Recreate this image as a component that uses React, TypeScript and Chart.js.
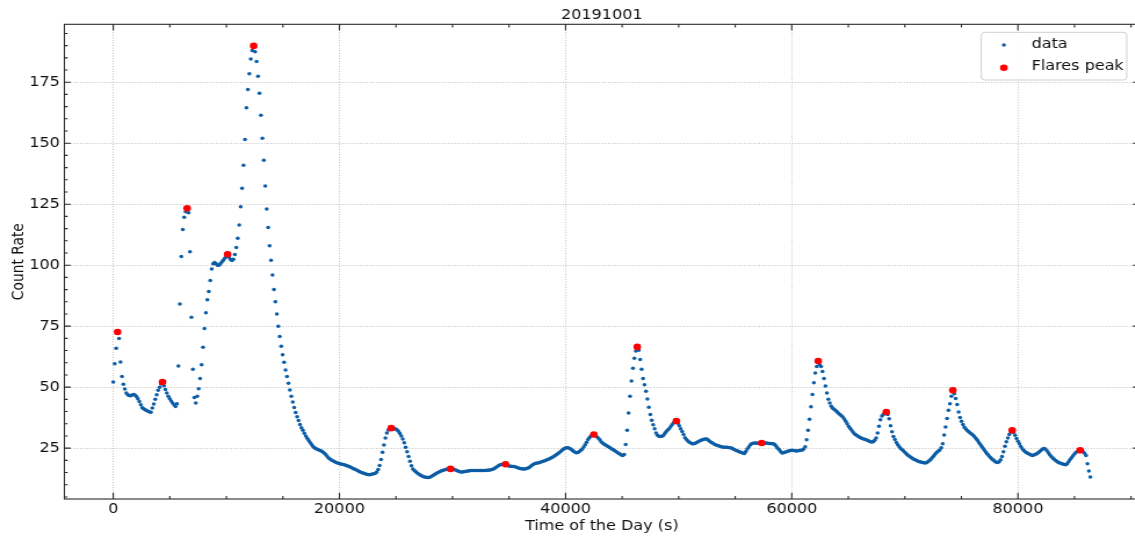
import { useEffect, useRef } from 'react';
import { Chart, registerables } from 'chart.js';

Chart.register(...registerables);

// Light-curve sampling cadence (s)
const CADENCE = 128;

// Count rate, one sample every CADENCE seconds starting at 00:00:00
const COUNT_RATE: number[] = [
  52.1, 59.6, 66.0, 72.6, 69.9, 60.3, 54.4, 51.2, 49.2, 47.6,
  46.9, 46.6, 46.5, 46.8, 47.0, 46.8, 46.2, 45.3, 44.1, 42.8,
  41.6, 41.1, 40.7, 40.4, 40.1, 39.8, 39.7, 41.5, 43.1, 45.0,
  46.9, 48.7, 50.0, 51.3, 52.1, 50.6, 49.0, 47.6, 46.3, 45.2,
  44.3, 43.5, 42.8, 42.1, 43.2, 58.7, 84.1, 103.6, 114.6, 119.6,
  121.9, 123.3, 121.5, 105.5, 78.7, 57.3, 45.8, 43.5, 46.3, 49.4,
  53.6, 59.2, 66.4, 74.0, 80.5, 85.8, 89.2, 93.7, 98.4, 100.6,
  101.1, 100.6, 100.0, 100.0, 100.6, 101.3, 102.0, 102.8, 103.6, 104.5,
  103.3, 102.3, 101.9, 102.4, 104.4, 107.3, 111.0, 116.5, 124.0, 131.5,
  141.0, 151.5, 164.5, 172.0, 178.5, 184.5, 188.0, 189.9, 187.5, 183.5,
  177.5, 170.5, 161.5, 152.0, 143.0, 132.5, 123.0, 115.5, 108.0, 102.0,
  96.0, 90.0, 85.0, 80.0, 75.0, 70.8, 66.8, 63.3, 60.2, 57.0,
  54.4, 51.6, 48.8, 46.3, 43.9, 41.7, 39.6, 37.9, 36.3, 34.7,
  33.4, 32.3, 31.1, 30.0, 29.1, 28.1, 27.3, 26.5, 25.7, 25.2,
  24.8, 24.5, 24.2, 24.0, 23.7, 23.3, 22.8, 22.2, 21.5, 20.9,
  20.4, 20.0, 19.7, 19.4, 19.1, 18.9, 18.7, 18.5, 18.4, 18.3,
  18.1, 17.9, 17.7, 17.5, 17.2, 16.9, 16.6, 16.3, 16.0, 15.7,
  15.4, 15.1, 14.9, 14.7, 14.5, 14.3, 14.2, 14.1, 14.2, 14.4,
  14.5, 14.7, 15.2, 16.2, 17.9, 20.3, 23.3, 26.3, 29.2, 31.2,
  32.4, 32.9, 33.2, 33.1, 33.0, 32.8, 32.5, 31.9, 31.0, 30.0,
  28.8, 27.2, 25.4, 23.5, 21.6, 19.6, 17.8, 16.5, 15.8, 15.3,
  14.8, 14.4, 14.0, 13.7, 13.4, 13.2, 13.1, 13.0, 13.0, 13.2,
  13.5, 13.9, 14.2, 14.6, 14.9, 15.2, 15.5, 15.7, 15.9, 16.1,
  16.3, 16.4, 16.5, 16.5, 16.4, 16.3, 16.1, 15.9, 15.6, 15.4,
  15.2, 15.2, 15.3, 15.4, 15.5, 15.6, 15.7, 15.8, 15.8, 15.8,
  15.8, 15.8, 15.8, 15.8, 15.8, 15.8, 15.8, 15.8, 15.9, 15.9,
  16.0, 16.1, 16.3, 16.6, 17.0, 17.4, 17.8, 18.1, 18.3, 18.4,
  18.4, 18.4, 18.1, 17.8, 17.6, 17.6, 17.5, 17.5, 17.3, 17.1,
  16.9, 16.7, 16.6, 16.5, 16.5, 16.6, 16.8, 17.0, 17.4, 17.9,
  18.3, 18.6, 18.8, 18.9, 19.0, 19.2, 19.4, 19.6, 19.8, 20.0,
  20.3, 20.6, 20.9, 21.2, 21.5, 21.9, 22.3, 22.7, 23.1, 23.6,
  24.1, 24.6, 25.0, 25.2, 25.2, 25.0, 24.7, 24.2, 23.7, 23.3,
  23.1, 23.2, 23.6, 24.1, 24.7, 25.5, 26.4, 27.4, 28.5, 29.4,
  30.0, 30.4, 30.6, 30.3, 29.7, 29.2, 28.5, 27.6, 27.1, 26.7,
  26.3, 26.0, 25.6, 25.3, 24.9, 24.4, 24.1, 23.7, 23.3, 22.9,
  22.6, 22.2, 22.0, 22.4, 26.5, 32.3, 39.4, 46.3, 52.5, 57.8,
  61.9, 64.8, 66.5, 65.1, 61.3, 57.3, 53.5, 51.0, 48.3, 45.1,
  41.8, 38.8, 36.4, 34.6, 33.0, 31.2, 30.3, 29.9, 29.8, 29.9,
  30.2, 31.0, 31.8, 32.4, 33.0, 33.8, 34.6, 35.3, 35.8, 36.1,
  35.2, 34.2, 33.0, 31.8, 30.6, 29.3, 28.5, 27.9, 27.4, 27.1,
  26.8, 26.8, 27.0, 27.3, 27.6, 27.9, 28.2, 28.4, 28.6, 28.8,
  28.7, 28.3, 27.8, 27.4, 27.1, 26.7, 26.4, 26.2, 26.0, 25.8,
  25.6, 25.5, 25.4, 25.4, 25.4, 25.3, 25.2, 25.1, 24.8, 24.4,
  24.1, 23.9, 23.6, 23.4, 23.2, 22.9, 22.8, 23.6, 24.6, 25.5,
  26.3, 26.8, 27.0, 27.1, 27.1, 27.0, 27.0, 27.1, 27.1, 27.1,
  27.1, 27.1, 27.0, 26.9, 26.9, 26.8, 26.8, 26.5, 25.8, 25.0,
  24.4, 23.6, 23.0, 23.1, 23.3, 23.5, 23.7, 23.9, 24.0, 24.1,
  24.0, 23.9, 23.8, 23.9, 24.0, 24.1, 24.2, 24.6, 25.6, 28.4,
  32.3, 36.8, 42.0, 47.0, 51.8, 55.8, 58.5, 60.7, 59.3, 58.5,
  56.4, 53.5, 50.5, 47.6, 45.0, 43.5, 42.2, 41.4, 40.9, 40.4,
  39.9, 39.3, 38.8, 38.3, 37.8, 37.0, 36.0, 35.0, 34.0, 33.2,
  32.4, 31.6, 30.9, 30.5, 30.1, 29.7, 29.4, 29.1, 28.9, 28.6,
  28.4, 28.2, 27.9, 27.6, 27.5, 27.6, 28.2, 29.2, 31.2, 34.0,
  36.6, 38.2, 38.8, 39.3, 39.8, 38.8, 37.1, 34.2, 31.7, 29.8,
  28.5, 27.3, 26.4, 25.6, 24.9, 24.3, 23.8, 23.2, 22.6, 22.1,
  21.7, 21.3, 20.9, 20.5, 20.2, 19.9, 19.6, 19.4, 19.3, 19.1,
  19.0, 18.9, 19.1, 19.5, 20.0, 20.6, 21.3, 22.0, 22.7, 23.3,
  23.8, 24.2, 25.2, 26.8, 30.4, 33.7, 37.2, 40.5, 43.2, 46.3,
  48.7, 47.3, 45.4, 42.9, 39.8, 37.6, 36.0, 34.7, 33.6, 32.8,
  32.2, 31.7, 31.2, 30.8, 30.3, 29.7, 29.0, 28.2, 27.3, 26.5,
  25.7, 24.9, 24.0, 23.2, 22.5, 21.8, 21.2, 20.6, 20.1, 19.6,
  19.2, 19.1, 19.4, 20.2, 21.6, 23.5, 25.8, 27.6, 29.2, 30.6,
  31.6, 32.3, 31.4, 30.3, 29.0, 27.8, 26.8, 25.7, 24.8, 24.0,
  23.5, 23.1, 22.8, 22.5, 22.2, 22.0, 22.2, 22.5, 22.7, 23.1,
  23.6, 24.1, 24.6, 24.9, 24.7, 23.9, 23.1, 22.3, 21.6, 21.0,
  20.4, 19.9, 19.5, 19.1, 18.9, 18.7, 18.5, 18.3, 18.2, 18.6,
  19.4, 20.3, 21.1, 21.9, 22.6, 23.2, 23.6, 23.9, 24.1, 23.9,
  23.5, 22.9, 22.0, 18.6, 15.6, 13.2,
];

// Sample indices of the detected flare peaks
const PEAK_INDEX: number[] = [3, 34, 51, 79, 97, 192, 233, 271, 332, 362, 389, 448, 487, 534, 580, 621, 668];

const TIME_S = COUNT_RATE.map((_, i) => i * CADENCE);

const X_TICKS = [0, 20000, 40000, 60000, 80000];
const Y_TICKS = [25, 50, 75, 100, 125, 150, 175];
const X_MINOR_STEP = 5000;
const Y_MINOR_STEP = 5;

const TITLE = '20191001';
const X_LABEL = 'Time of the Day (s)';
const Y_LABEL = 'Count Rate';
const DATA_LABEL = 'data';
const PEAK_LABEL = 'Flares peak';

const DATA_COLOR = '#0C5DA5';
const PEAK_COLOR = '#ff0000';
const AXIS_COLOR = '#2a2a2a';
const GRID_COLOR = '#b0b0b0';
const TEXT_COLOR = '#111111';
const FONT = "'DejaVu Sans', sans-serif";
const FONT_SIZE = 13.8;

const DATA_RADIUS = 1.75;
const PEAK_RADIUS = 3.3;

// Drawing surface: rendered narrow, displayed horizontally widened
const RENDER_W = 985;
const HEIGHT = 541;
const STRETCH = 1.1605;

// 5 % margins around the data, as in the usual autoscaling
function paddedRange(values: number[]) {
  const lo = Math.min(...values);
  const hi = Math.max(...values);
  const m = (hi - lo) * 0.05;
  return [lo - m, hi + m];
}
const [X_MIN, X_MAX] = paddedRange(TIME_S);
const [Y_MIN, Y_MAX] = paddedRange(COUNT_RATE);

const dataPoints = TIME_S.map((t, i) => ({ x: t, y: COUNT_RATE[i] }));
const peakPoints = PEAK_INDEX.map((i) => ({ x: TIME_S[i], y: COUNT_RATE[i] }));

// Inward ticks on all four sides, frame, and a boxed legend
const axesDecor = {
  id: 'axesDecor',
  afterDatasetsDraw(chart: any) {
    const { ctx, chartArea: a, scales } = chart;
    const xs = scales.x;
    const ys = scales.y;
    ctx.save();
    ctx.strokeStyle = AXIS_COLOR;
    ctx.lineWidth = 1.1;
    ctx.beginPath();
    const start = Math.ceil(xs.min / X_MINOR_STEP) * X_MINOR_STEP;
    for (let v = start; v <= xs.max; v += X_MINOR_STEP) {
      const len = X_TICKS.includes(v) ? 6.2 : 3.1;
      const p = xs.getPixelForValue(v);
      ctx.moveTo(p, a.bottom);
      ctx.lineTo(p, a.bottom - len);
      ctx.moveTo(p, a.top);
      ctx.lineTo(p, a.top + len);
    }
    const yStart = Math.ceil(ys.min / Y_MINOR_STEP) * Y_MINOR_STEP;
    for (let v = yStart; v <= ys.max; v += Y_MINOR_STEP) {
      const len = Y_TICKS.includes(v) ? 5.4 : 2.8;
      const p = ys.getPixelForValue(v);
      ctx.moveTo(a.left, p);
      ctx.lineTo(a.left + len, p);
      ctx.moveTo(a.right, p);
      ctx.lineTo(a.right - len, p);
    }
    ctx.stroke();
    ctx.strokeRect(a.left, a.top, a.right - a.left, a.bottom - a.top);
    ctx.restore();
  },
  afterDraw(chart: any) {
    const { ctx, chartArea: a } = chart;
    const w = 125.4;
    const h = 47.7;
    const right = a.right - 10.7;
    const left = right - w;
    const top = a.top + 8;
    const r = 3;
    ctx.save();
    ctx.beginPath();
    ctx.moveTo(left + r, top);
    ctx.lineTo(left + w - r, top);
    ctx.arcTo(left + w, top, left + w, top + r, r);
    ctx.lineTo(left + w, top + h - r);
    ctx.arcTo(left + w, top + h, left + w - r, top + h, r);
    ctx.lineTo(left + r, top + h);
    ctx.arcTo(left, top + h, left, top + h - r, r);
    ctx.lineTo(left, top + r);
    ctx.arcTo(left, top, left + r, top, r);
    ctx.closePath();
    ctx.fillStyle = 'rgba(255,255,255,0.85)';
    ctx.fill();
    ctx.strokeStyle = '#d0d0d0';
    ctx.lineWidth = 1;
    ctx.stroke();

    ctx.fillStyle = DATA_COLOR;
    ctx.beginPath();
    ctx.arc(left + 19.5, top + 12.7, DATA_RADIUS, 0, Math.PI * 2);
    ctx.fill();
    ctx.fillStyle = PEAK_COLOR;
    ctx.beginPath();
    ctx.arc(left + 19.5, top + 35.4, PEAK_RADIUS, 0, Math.PI * 2);
    ctx.fill();

    ctx.fillStyle = TEXT_COLOR;
    ctx.font = `${FONT_SIZE}px ${FONT}`;
    ctx.textAlign = 'left';
    ctx.textBaseline = 'alphabetic';
    ctx.fillText(DATA_LABEL, left + 43.4, top + 16.0);
    ctx.fillText(PEAK_LABEL, left + 43.4, top + 37.7);
    ctx.restore();
  },
};

export default function App() {
  const canvasRef = useRef<HTMLCanvasElement>(null);

  useEffect(() => {
    const canvas = canvasRef.current;
    if (!canvas) return;
    const font = { family: FONT, size: FONT_SIZE, weight: 'normal' as const };
    const chart = new Chart(canvas, {
      type: 'scatter',
      data: {
        datasets: [
          {
            label: PEAK_LABEL,
            data: peakPoints,
            backgroundColor: PEAK_COLOR,
            borderWidth: 0,
            pointRadius: PEAK_RADIUS,
            pointHoverRadius: PEAK_RADIUS,
            order: 0,
          },
          {
            label: DATA_LABEL,
            data: dataPoints,
            backgroundColor: DATA_COLOR,
            borderWidth: 0,
            pointRadius: DATA_RADIUS,
            pointHoverRadius: DATA_RADIUS,
            order: 1,
          },
        ],
      },
      options: {
        responsive: false,
        maintainAspectRatio: false,
        devicePixelRatio: 1,
        animation: false,
        events: [],
        layout: { padding: { left: 0, right: 2.1, top: 0, bottom: 0 } },
        plugins: {
          legend: { display: false },
          tooltip: { enabled: false },
          title: {
            display: true,
            text: TITLE,
            color: TEXT_COLOR,
            font,
            fullSize: false,
            padding: { top: 7.1, bottom: 0.64 },
          },
        },
        scales: {
          x: {
            type: 'linear',
            position: 'bottom',
            min: X_MIN,
            max: X_MAX,
            afterBuildTicks: (scale: any) => {
              scale.ticks = X_TICKS.map((value) => ({ value }));
            },
            afterFit: (scale: any) => {
              scale.height = 42;
            },
            ticks: {
              color: TEXT_COLOR,
              font,
              padding: 2.5,
              maxRotation: 0,
              autoSkip: false,
              callback: (v: any) => String(v),
            },
            grid: { color: GRID_COLOR, lineWidth: 0.8, drawTicks: false },
            border: { display: false, dash: [1, 1.6] },
            title: {
              display: true,
              text: X_LABEL,
              color: TEXT_COLOR,
              font,
              padding: { top: 0, bottom: 6.6 },
            },
          },
          y: {
            type: 'linear',
            position: 'left',
            min: Y_MIN,
            max: Y_MAX,
            afterBuildTicks: (scale: any) => {
              scale.ticks = Y_TICKS.map((value) => ({ value }));
            },
            afterFit: (scale: any) => {
              scale.width = 55.5;
            },
            ticks: {
              color: TEXT_COLOR,
              font,
              padding: 3.9,
              autoSkip: false,
              callback: (v: any) => String(v),
            },
            grid: { color: GRID_COLOR, lineWidth: 0.8, drawTicks: false },
            border: { display: false, dash: [1, 1.6] },
            title: {
              display: true,
              text: Y_LABEL,
              color: TEXT_COLOR,
              font,
              padding: { top: 7.7, bottom: 0 },
            },
          },
        },
      },
      plugins: [axesDecor],
    } as any);
    return () => chart.destroy();
  }, []);

  return (
    <div
      style={{
        position: 'fixed',
        left: 0,
        top: 0,
        width: 1135,
        height: HEIGHT,
        overflow: 'hidden',
        background: '#ffffff',
      }}
    >
      <canvas
        ref={canvasRef}
        width={RENDER_W}
        height={HEIGHT}
        style={{ display: 'block', width: `${RENDER_W * STRETCH}px`, height: `${HEIGHT}px` }}
      />
    </div>
  );
}
